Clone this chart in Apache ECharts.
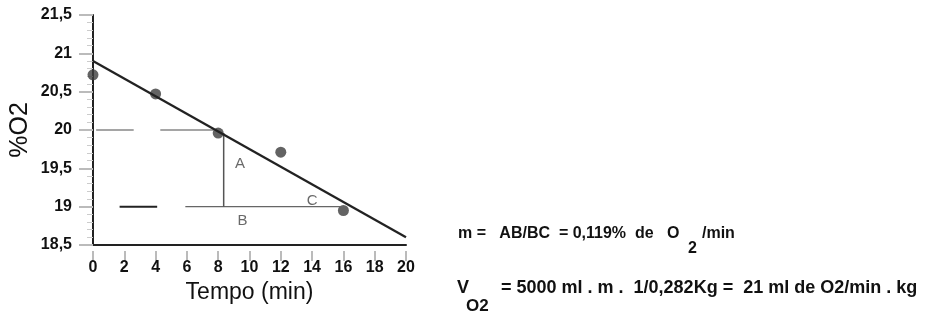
<!DOCTYPE html>
<html><head><meta charset="utf-8">
<script src="https://cdn.jsdelivr.net/npm/echarts@6/dist/echarts.min.js"></script>
<style>html,body{margin:0;padding:0;background:#fff}#c{width:929px;height:322px}</style>
</head><body><div id="c"></div>
<script>
// Data
const times = [0, 4, 8, 12, 16, 20];
const o2Values = [20.72, 20.47, 19.96, 19.71, 18.95, 18.47];
const fitLine = [[0, 20.9], [20, 18.6]];
const dash20 = [[0.2, 20], [2.6, 20], '-', [4.3, 20], [7.8, 20]];
const dash19Dark = [[1.7, 19], [4.1, 19]];
const line19 = [[5.9, 19], [16, 19]];
const lineAB = [[8.35, 19], [8.35, 19.96]];
const letterNames = ['A', 'B', 'C'];
const letterPos = [[9.4, 19.56], [9.55, 18.82], [14.0, 19.08]];
const yTicks = ['18,5', '19', '19,5', '20', '20,5', '21', '21,5'];

const chart = echarts.init(document.getElementById('c'));
const font = 'Liberation Sans, Arial, sans-serif';
function t(text, x, y, size) {
  return { type: 'text', x: x, y: y,
    style: { text: text, fontSize: size || 16, fontWeight: 'bold', fill: '#111', fontFamily: font,
      textVerticalAlign: 'middle', verticalAlign: 'middle' } };
}
chart.setOption({
  animation: false,
  grid: { left: 93, right: 523, top: 15, bottom: 77 },
  xAxis: [{
    type: 'value', min: 0, max: 20, interval: 2,
    axisLine: { onZero: false, lineStyle: { color: '#222', width: 2 } },
    axisTick: { show: false },
    splitLine: { show: false },
    axisLabel: { margin: 15, color: '#111', fontSize: 16, fontWeight: 'bold', fontFamily: font },
    name: 'Tempo (min)', nameLocation: 'middle', nameGap: 33,
    nameTextStyle: { fontSize: 23, color: '#111', fontFamily: font }
  }, {
    type: 'value', min: 0, max: 20, interval: 2, position: 'bottom', offset: 6,
    axisLine: { show: false },
    axisTick: { show: true, length: 10, lineStyle: { color: '#bbb', width: 2 } },
    axisLabel: { show: false }, splitLine: { show: false }
  }],
  yAxis: {
    type: 'value', min: 18.5, max: 21.5, interval: 0.5,
    axisLine: { onZero: false, lineStyle: { color: '#222', width: 2 } },
    axisTick: { show: true, length: 14, lineStyle: { color: '#bbb', width: 2 } },
    minorTick: { show: true, splitNumber: 5, length: 6, lineStyle: { color: '#ccc', width: 1 } },
    splitLine: { show: false },
    axisLabel: { margin: 21, color: '#111', fontSize: 16, fontWeight: 'bold', fontFamily: font,
      formatter: (v) => yTicks[Math.round((v - 18.5) / 0.5)] },
    name: '%O2', nameLocation: 'middle', nameGap: 60, nameRotate: 90,
    nameTextStyle: { fontSize: 25, color: '#111', fontFamily: font }
  },
  series: [
    { type: 'line', data: dash20, symbol: 'none', connectNulls: false,
      lineStyle: { color: '#888', width: 1.5 } },
    { type: 'line', data: dash19Dark, symbol: 'none', lineStyle: { color: '#222', width: 2 } },
    { type: 'line', data: line19, symbol: 'none', lineStyle: { color: '#666', width: 1.3 } },
    { type: 'line', data: lineAB, symbol: 'none', lineStyle: { color: '#555', width: 1.5 } },
    { type: 'line', data: fitLine, symbol: 'none', lineStyle: { color: '#222', width: 2.3 } },
    { type: 'scatter', data: times.map((t, i) => [t, o2Values[i]]), symbolSize: 11,
      itemStyle: { color: '#3c3c3c' } },
    { type: 'scatter', data: letterPos.map((p, i) => ({ value: p, name: letterNames[i] })),
      symbolSize: 0,
      label: { show: true, position: 'inside', formatter: (p) => p.name, fontSize: 15,
        color: '#444', fontFamily: font } }
  ],
  graphic: [
    t('m =   AB/BC  = 0,119%  de   O', 458, 234, 16),
    t('2', 688, 249, 16),
    t('/min', 702, 234, 16),
    t('V', 457, 288, 18),
    t('O2', 466, 306, 17),
    t('= 5000 ml . m .  1/0,282Kg =  21 ml de O2/min . kg', 501, 288, 18)
  ]
});
</script></body></html>
